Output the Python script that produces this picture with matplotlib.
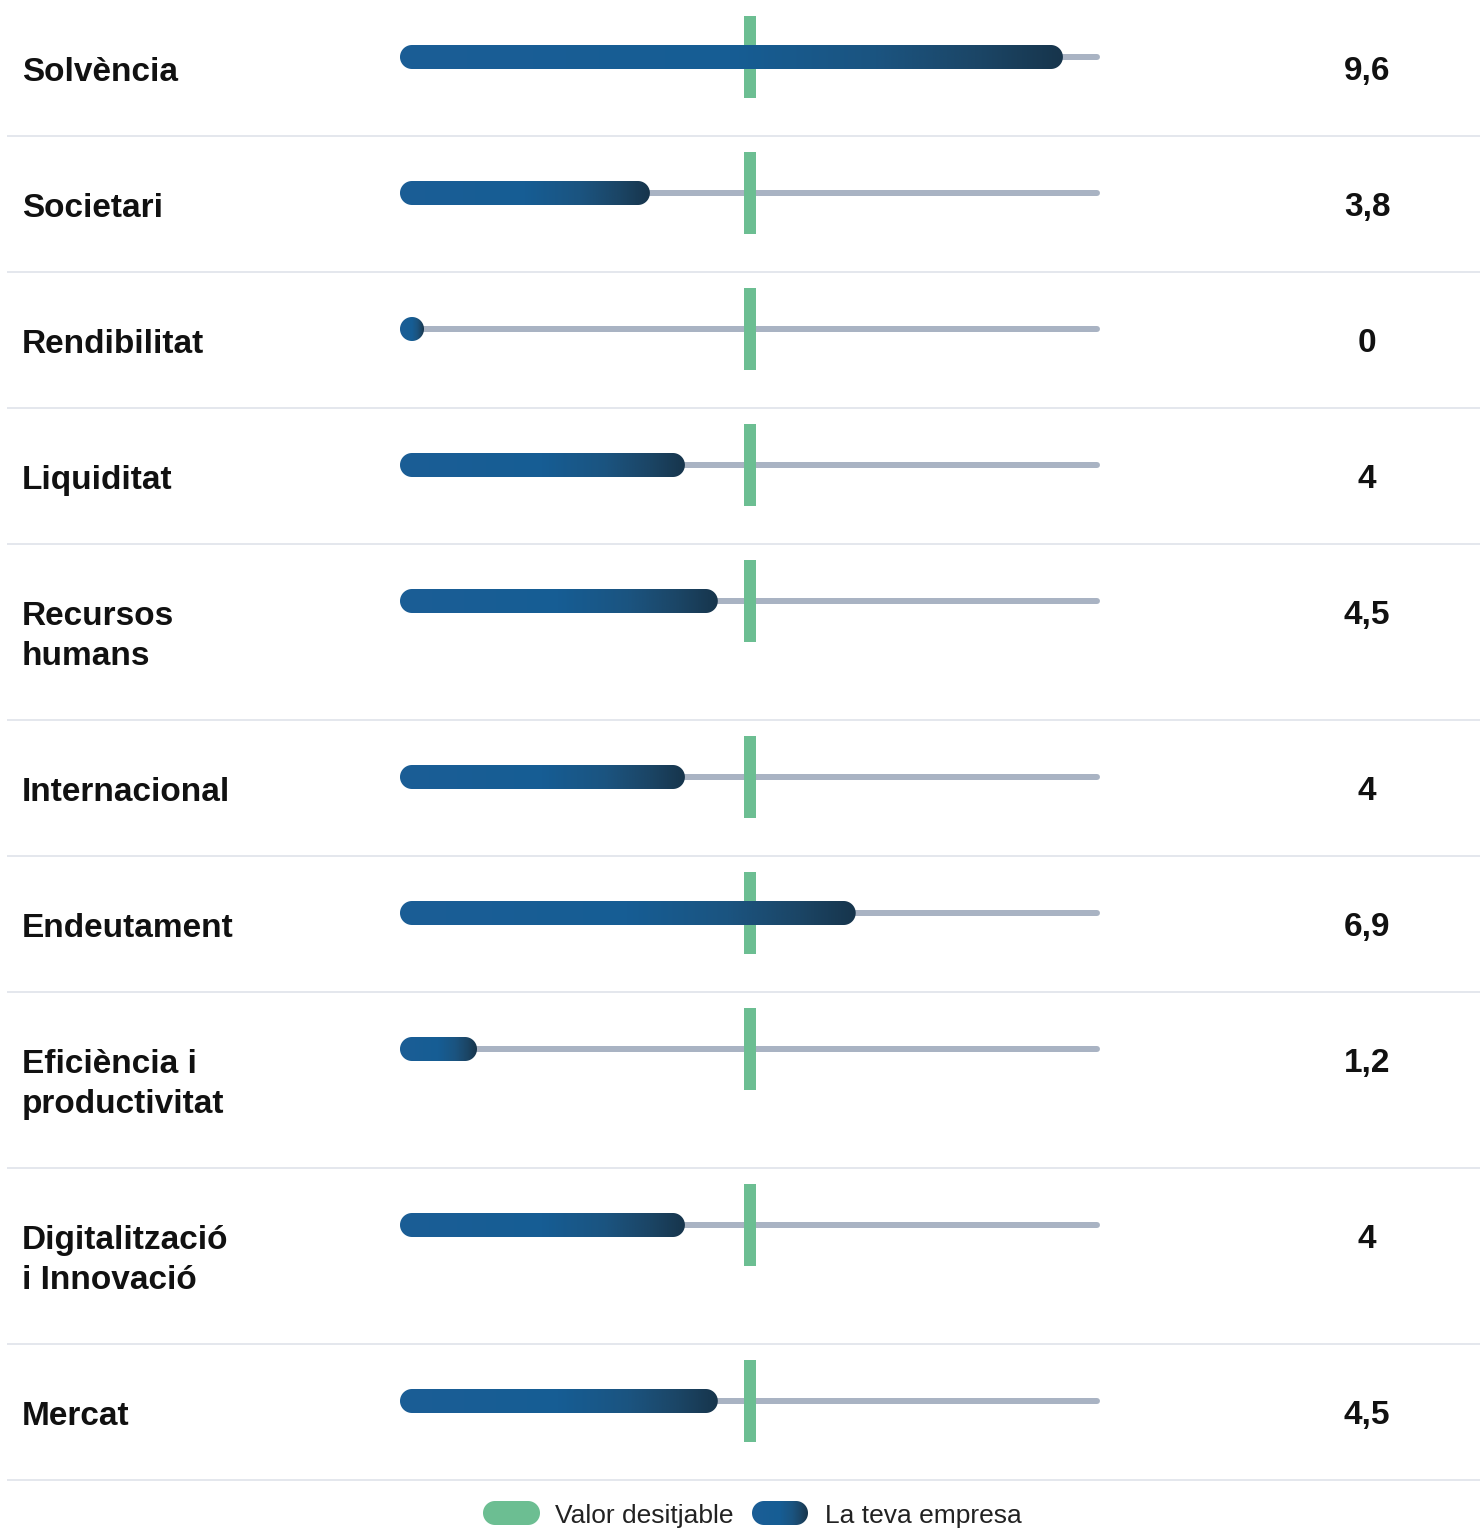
import numpy as np
import matplotlib
matplotlib.use("Agg")
import matplotlib.pyplot as plt
from matplotlib.colors import LinearSegmentedColormap
from matplotlib.patches import Polygon

# --- data -------------------------------------------------------------------
categories = ["Solvència", "Societari", "Rendibilitat", "Liquiditat",
              "Recursos\nhumans", "Internacional", "Endeutament",
              "Eficiència i\nproductivitat", "Digitalització\ni Innovació", "Mercat"]
scores = [9.6, 3.8, 0, 4, 4.5, 4, 6.9, 1.2, 4, 4.5]          # printed value
bar_scores = [9.47, 3.57, 0.0, 4.07, 4.54, 4.07, 6.51, 1.10, 4.07, 4.54]  # drawn bar length
desired = 5.0
scale_max = 10
legend_labels = ["Valor desitjable", "La teva empresa"]

GREEN = "#6cbe92"
TRACK = "#a9b3c3"
SEP = "#e4e7ed"
bar_cmap = LinearSegmentedColormap.from_list(
    "bar", [(0.0, "#1b5e96"), (0.5, "#165d94"), (0.72, "#1b5480"),
            (0.88, "#1b4565"), (1.0, "#17354c")])

W, H = 1480, 1538
PX_PER_UNIT = 70.0
X0 = 400.0


def ux(px):
    """pixel column -> value units on the bar scale"""
    return (px - X0) / PX_PER_UNIT


fig = plt.figure(figsize=(W / 100, H / 100), dpi=100)
ax = fig.add_axes([0, 0, 1, 1])
ax.set_xlim(ux(0), ux(W))
ax.set_ylim(H, 0)
ax.axis("off")

r_px = 12.0           # bar half-height (pixels)
r_u = r_px / PX_PER_UNIT
grad = np.linspace(0, 1, 256).reshape(1, -1)
label_font = dict(family=["Liberation Sans", "DejaVu Sans"], fontsize=24,
                  fontweight="bold", color="#111111")


def stadium(x_left, width, yc, rx, ry):
    t = np.linspace(-np.pi / 2, np.pi / 2, 40)
    right = np.column_stack([x_left + width - rx + rx * np.cos(t), yc + ry * np.sin(t)])
    left = np.column_stack([x_left + rx - rx * np.cos(t), yc - ry * np.sin(t)])
    return np.vstack([right, left])


def pill(x_left, width, yc, color=None, gradient=False, z=3):
    p = Polygon(stadium(x_left, width, yc, r_u, r_px), closed=True,
                facecolor=color if color else "none", edgecolor="none", zorder=z)
    ax.add_patch(p)
    if gradient:
        im = ax.imshow(grad, cmap=bar_cmap, aspect="auto", interpolation="bilinear",
                       extent=(x_left, x_left + width, yc + r_px, yc - r_px), zorder=z)
        im.set_clip_path(p)
    return p


cap = 3 / PX_PER_UNIT
top = 0.0
for cat, val, bval in zip(categories, scores, bar_scores):
    lines = cat.split("\n")
    row_h = 96 + 40 * len(lines)
    yc = top + 57

    # track
    ax.plot([cap, scale_max - cap], [yc, yc], color=TRACK, lw=6 * 0.72,
            solid_capstyle="round", zorder=1)
    # desired value marker
    ax.plot([desired, desired], [top + 16, top + 98], color=GREEN, lw=12 * 0.72,
            solid_capstyle="butt", zorder=2)
    # company bar
    pill(0, max(bval, 2 * r_u), yc, gradient=True, z=3)

    for i, ln in enumerate(lines):
        ax.text(ux(22), top + 81 + 40 * i, ln, ha="left", va="baseline", **label_font)
    ax.text(ux(1367), top + 80, f"{val:g}".replace(".", ","),
            ha="center", va="baseline", **label_font)

    top += row_h
    ax.plot([ux(8), ux(W)], [top, top], color=SEP, lw=2 * 0.72, zorder=0)

# legend
ly = 1513
pill(ux(483), 57 / PX_PER_UNIT, ly, color=GREEN, z=3)
ax.text(ux(555), ly, legend_labels[0], ha="left", va="center_baseline",
        family=["Liberation Sans", "DejaVu Sans"], fontsize=19, color="#222222")
pill(ux(752), 56 / PX_PER_UNIT, ly, gradient=True, z=3)
ax.text(ux(825), ly, legend_labels[1], ha="left", va="center_baseline",
        family=["Liberation Sans", "DejaVu Sans"], fontsize=19, color="#222222")

fig.savefig("out.png", dpi=100)
